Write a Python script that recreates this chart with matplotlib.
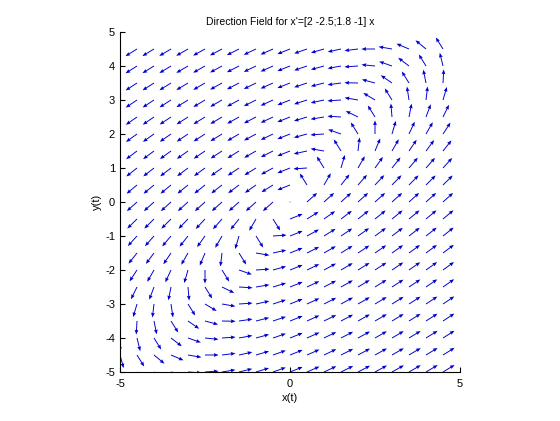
# Direction field for the linear system x' = A x
import numpy as np
import matplotlib
matplotlib.use('Agg')
import matplotlib.pyplot as plt

# system matrix
A = [[2.0, -2.5],
     [1.8, -1.0]]

# grid points (both axes)
grid_x = [-5, -4.5, -4, -3.5, -3, -2.5, -2, -1.5, -1, -0.5,
          0, 0.5, 1, 1.5, 2, 2.5, 3, 3.5, 4, 4.5]
grid_y = [-5, -4.5, -4, -3.5, -3, -2.5, -2, -1.5, -1, -0.5,
          0, 0.5, 1, 1.5, 2, 2.5, 3, 3.5, 4, 4.5]

x_ticks = [-5, 0, 5]
y_ticks = [-5, -4, -3, -2, -1, 0, 1, 2, 3, 4, 5]

title = "Direction Field for x'=[2 -2.5;1.8 -1] x"
arrow_len = 0.4

plt.rcParams['font.family'] = ['Liberation Sans', 'DejaVu Sans']
plt.rcParams['axes.unicode_minus'] = False

X, Y = np.meshgrid(grid_x, grid_y)
U = A[0][0] * X + A[0][1] * Y
V = A[1][0] * X + A[1][1] * Y
L = np.sqrt(U**2 + V**2)
L[L == 0] = 1.0
U = U / L * arrow_len
V = V / L * arrow_len

fig = plt.figure(figsize=(5.6, 4.21), dpi=100)
ax = fig.add_axes([120/560, 49/421, 340/560, 340/421])

ax.quiver(X, Y, U, V, angles='xy', scale_units='xy', scale=1,
          color='#0000cc', width=0.0028, headwidth=4, headlength=5,
          headaxislength=4.5)

ax.set_xlim(-5, 5)
ax.set_ylim(-5, 5)
ax.set_xticks(x_ticks)
ax.set_yticks(y_ticks)
ax.spines['top'].set_visible(False)
ax.spines['right'].set_visible(False)
ax.tick_params(direction='in', length=3.5, labelsize=8, width=0.8)
ax.tick_params(axis='x', pad=5)
for s in ('left', 'bottom'):
    ax.spines[s].set_linewidth(0.8)

ax.set_title(title, fontsize=7.5, pad=5)
ax.set_xlabel('x(t)', fontsize=8, labelpad=3)
ax.set_ylabel('y(t)', fontsize=8, labelpad=2)

fig.savefig('out.png', dpi=100)
